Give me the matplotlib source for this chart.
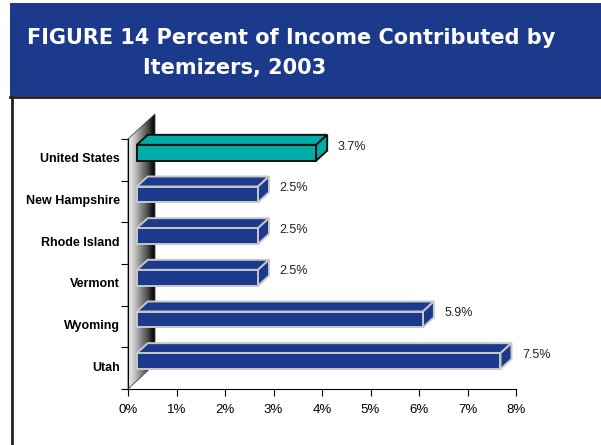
import numpy as np
import matplotlib.pyplot as plt
from matplotlib.patches import Polygon, Rectangle
from matplotlib.lines import Line2D

# Dados do gráfico (de baixo para cima)
estados = ['Utah', 'Wyoming', 'Vermont', 'Rhode Island', 'New Hampshire', 'United States']
valores = [7.5, 5.9, 2.5, 2.5, 2.5, 3.7]
rotulos = ['7.5%', '5.9%', '2.5%', '2.5%', '2.5%', '3.7%']
ticks_x = ['0%', '1%', '2%', '3%', '4%', '5%', '6%', '7%', '8%']

azul = '#1c3a8c'
verde = '#00ada6'

fig = plt.figure(figsize=(6.01, 4.45), dpi=100)
fig.patch.set_facecolor('white')

# Cabeçalho azul
fig.patches.append(Rectangle((10 / 601, 1 - 96 / 445), 591 / 601, 93 / 445,
                             transform=fig.transFigure, facecolor=azul, edgecolor='none'))
fig.lines.append(Line2D([10 / 601, 1], [1 - 97 / 445] * 2, transform=fig.transFigure,
                        color='#222222', lw=2))
fig.lines.append(Line2D([11.5 / 601] * 2, [0, 1 - 97 / 445], transform=fig.transFigure,
                        color='#222222', lw=2))
fig.text(27 / 601, 1 - 38 / 445, 'FIGURE 14 Percent of Income Contributed by',
         color='white', fontsize=15, fontweight='bold', va='center', ha='left',
         family='DejaVu Sans')
fig.text(143 / 601, 1 - 68 / 445, 'Itemizers, 2003',
         color='white', fontsize=15, fontweight='bold', va='center', ha='left',
         family='DejaVu Sans')

# Eixo: 0% em x=128px, 8% em x=516px; base y=389px, topo y=139px
ax = fig.add_axes([128 / 601, (445 - 389) / 445, 388 / 601, 250 / 445])
ax.set_facecolor('none')
for s in ['top', 'right']:
    ax.spines[s].set_visible(False)
ax.spines['left'].set_linewidth(0.8)
ax.spines['bottom'].set_linewidth(0.8)

px_x = 388 / 8
px_y = 250 / 6

# Parede lateral com gradiente
wdx = 27 / px_x
wdy = 25 / px_y
parede = Polygon([(0, 0), (wdx, wdy), (wdx, 6 + wdy), (0, 6)], closed=True,
                 facecolor='none', edgecolor='#444444', lw=0.6, clip_on=False, zorder=2)
ax.add_patch(parede)
grad = np.linspace(0, 1, 100).reshape(1, -1)
img = ax.imshow(grad, extent=[0, wdx, 0, 6 + wdy], aspect='auto', cmap='Greys',
                vmin=-0.15, vmax=1.0, zorder=1)
img.set_clip_path(parede)
img.set_clip_box(fig.bbox)
ax.set_xlim(0, 8)
ax.set_ylim(0, 6)

# Barras 3D
ddx = 11 / px_x
ddy = 10 / px_y
x0 = 0.18
h = 0.38
for i, (v, r) in enumerate(zip(valores, rotulos)):
    cor = verde if estados[i] == 'United States' else azul
    borda = '#111111' if estados[i] == 'United States' else '#c8c8c8'
    yb = i + 0.48
    yt = yb + h
    x1 = x0 + v
    topo = Polygon([(x0, yt), (x0 + ddx, yt + ddy), (x1 + ddx, yt + ddy), (x1, yt)],
                   facecolor=cor, edgecolor=borda, lw=1.4, zorder=3, clip_on=False)
    lado = Polygon([(x1, yb), (x1, yt), (x1 + ddx, yt + ddy), (x1 + ddx, yb + ddy)],
                   facecolor=cor, edgecolor=borda, lw=1.4, zorder=3, clip_on=False)
    frente = Rectangle((x0, yb), v, h, facecolor=cor, edgecolor=borda, lw=1.4,
                       zorder=4, clip_on=False)
    ax.add_patch(topo)
    ax.add_patch(lado)
    ax.add_patch(frente)
    ax.text(x1 + ddx + 0.22, yt - 0.04, r, fontsize=9, va='center', ha='left',
            family='Liberation Sans', color='#222222')

# Eixo y: marcas nas divisas, rótulos no centro
ax.set_yticks(range(7))
ax.set_yticklabels([])
ax.set_yticks([i + 0.55 for i in range(6)], minor=True)
ax.set_yticklabels(estados, minor=True, fontsize=9, fontweight='bold',
                   family='Liberation Sans')
ax.tick_params(axis='y', which='major', direction='out', length=5, width=0.8)
ax.tick_params(axis='y', which='minor', length=0, pad=6)

# Eixo x
ax.set_xticks(range(9))
ax.set_xticklabels(ticks_x, fontsize=9.5, family='Liberation Sans')
ax.tick_params(axis='x', direction='out', length=5, width=0.8, pad=6)

plt.savefig('out.png', dpi=100)
